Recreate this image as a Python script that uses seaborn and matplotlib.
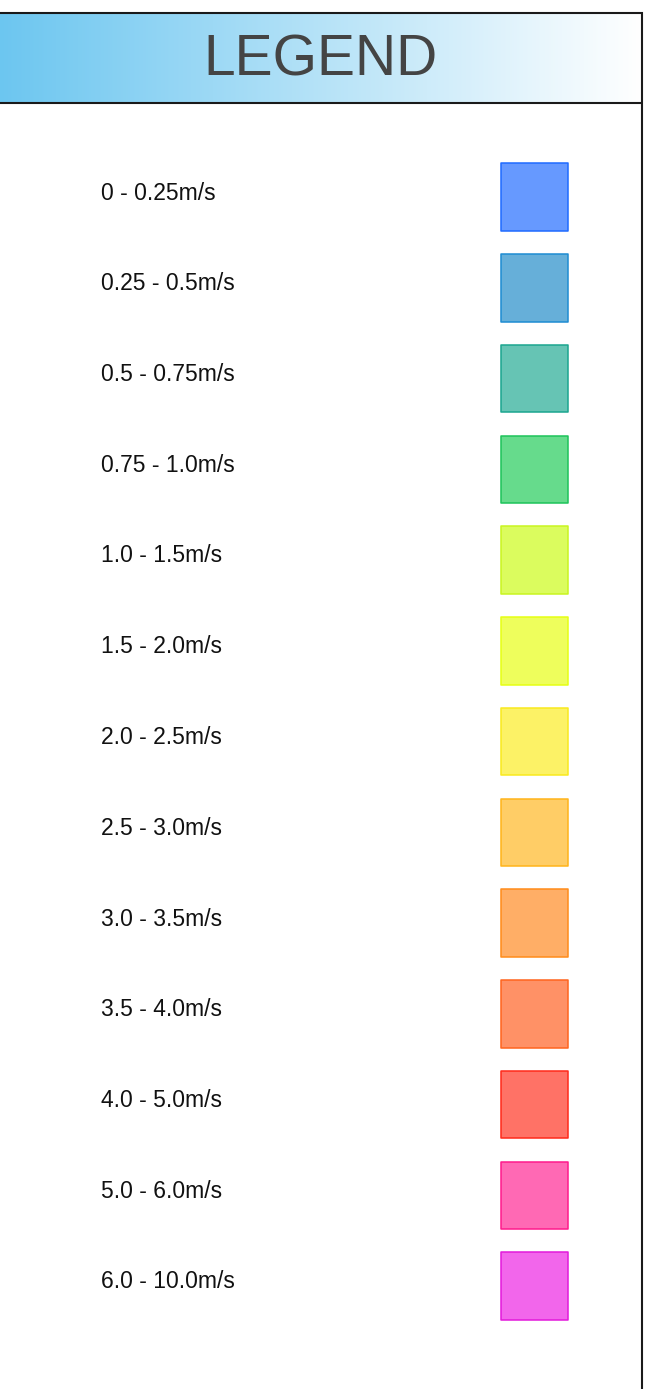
import numpy as np
import matplotlib
matplotlib.use("Agg")
import matplotlib.pyplot as plt
from matplotlib.patches import Rectangle
import seaborn as sns
import pandas as pd

# Wind speed classes and their swatch colours
speed_bins = [
    "0 - 0.25m/s", "0.25 - 0.5m/s", "0.5 - 0.75m/s", "0.75 - 1.0m/s",
    "1.0 - 1.5m/s", "1.5 - 2.0m/s", "2.0 - 2.5m/s", "2.5 - 3.0m/s",
    "3.0 - 3.5m/s", "3.5 - 4.0m/s", "4.0 - 5.0m/s", "5.0 - 6.0m/s",
    "6.0 - 10.0m/s",
]
fill_colors = [
    "#6699FF", "#66AFD9", "#66C4B4", "#66DB8C", "#DBFC5E", "#EEFE5C",
    "#FCF266", "#FFCD66", "#FFAE66", "#FF9166", "#FF7266", "#FF69B4",
    "#F266EB",
]
edge_colors = [
    "#1F6BFF", "#1E8CD2", "#1BA58F", "#1DC35A", "#C9F520", "#E6FF14",
    "#F9EA1E", "#FFB41A", "#FF8C1A", "#FF641E", "#FF2A1A", "#FF1A8C",
    "#E31ADB",
]
title_text = "LEGEND"

sns.set_theme(style="white")
plt.rcParams["font.family"] = ["Liberation Sans", "DejaVu Sans"]

W, H = 667, 1389
fig = plt.figure(figsize=(W / 100, H / 100), dpi=100)
ax = fig.add_axes([0, 0, 1, 1])

# Panel geometry (pixel space)
box_left, box_right = -2, 642
box_top, header_bottom = 13, 103

# Header gradient: sky blue fading to white
grad = np.linspace(0, 1, 256)[None, :]
c0 = np.array(matplotlib.colors.to_rgb("#6CC6F0"))
c1 = np.array([1.0, 1.0, 1.0])
img = c0[None, None, :] * (1 - grad[..., None]) + c1[None, None, :] * grad[..., None]
ax.imshow(img, extent=[box_left, box_right, header_bottom, box_top],
          aspect="auto", zorder=1, interpolation="bilinear")

# Panel outline and header separator
ax.add_patch(Rectangle((box_left, box_top), box_right - box_left, H + 50,
                       fill=False, edgecolor="#1a1a1a", linewidth=1.5, zorder=3))
ax.plot([box_left, box_right], [header_bottom, header_bottom],
        color="#1a1a1a", linewidth=1.5, zorder=3)

ax.text((box_left + box_right) / 2, (box_top + header_bottom) / 2 + 2, title_text,
        ha="center", va="center", fontsize=41, color="#444444", zorder=4)

# Legend rows
step = 90.75
first_swatch = 197
df = pd.DataFrame({
    "label": speed_bins,
    "x": 534.5,
    "y": [first_swatch + i * step for i in range(len(speed_bins))],
})

side_pt = 67.5 * 72 / 100
sns.scatterplot(data=df, x="x", y="y", hue="label", palette=fill_colors,
                marker="s", s=side_pt ** 2, edgecolor=edge_colors, linewidth=1.1,
                legend=False, ax=ax, zorder=5)
ax.set_xlim(0, W)
ax.set_ylim(H, 0)
ax.axis("off")

for lbl, yy in zip(df["label"], df["y"]):
    ax.text(101, yy - 4, lbl, ha="left", va="center", fontsize=16.5,
            color="#111111", zorder=5)

fig.savefig("out.png", dpi=100)
